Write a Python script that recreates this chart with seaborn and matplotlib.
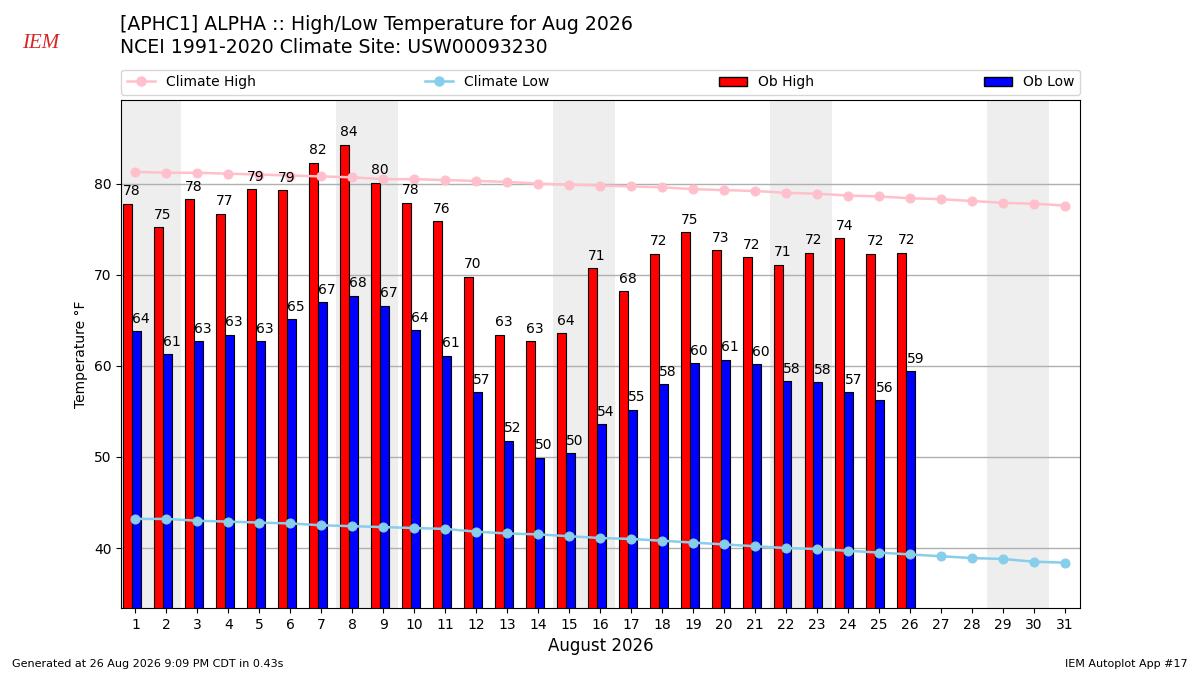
import matplotlib
matplotlib.use("Agg")
import matplotlib.pyplot as plt
from matplotlib.lines import Line2D
from matplotlib.patches import Patch
import numpy as np
import pandas as pd
import seaborn as sns

days = list(range(1, 32))
ob_days = list(range(1, 27))
ob_high = [77.8, 75.2, 78.3, 76.7, 79.4, 79.3, 82.3, 84.3, 80.1, 77.9, 75.9,
           69.8, 63.4, 62.7, 63.6, 70.7, 68.2, 72.3, 74.7, 72.7, 71.9, 71.1,
           72.4, 74.0, 72.3, 72.4]
ob_low = [63.8, 61.3, 62.7, 63.4, 62.7, 65.1, 67.0, 67.7, 66.6, 63.9, 61.1,
          57.1, 51.8, 49.9, 50.4, 53.6, 55.2, 58.0, 60.3, 60.7, 60.2, 58.3,
          58.2, 57.1, 56.2, 59.4]
clim_high = [81.3, 81.2, 81.2, 81.1, 81.0, 80.9, 80.8, 80.7, 80.5, 80.5, 80.4,
             80.3, 80.2, 80.0, 79.9, 79.8, 79.7, 79.6, 79.4, 79.3, 79.2, 79.0,
             78.9, 78.7, 78.6, 78.4, 78.3, 78.1, 77.9, 77.8, 77.6]
clim_low = [43.2, 43.2, 43.0, 42.9, 42.8, 42.7, 42.5, 42.4, 42.3, 42.2, 42.1,
            41.8, 41.6, 41.5, 41.3, 41.1, 41.0, 40.8, 40.6, 40.4, 40.2, 40.0,
            39.9, 39.7, 39.5, 39.3, 39.1, 38.9, 38.8, 38.5, 38.4]
weekends = [(1, 2), (8, 9), (15, 16), (22, 23), (29, 30)]

# bars sit a bit left of the day tick, like the original
shift = -0.12
obs = pd.DataFrame({
    'pos': [d + shift for d in ob_days] * 2,
    'temp': ob_high + ob_low,
    'kind': ['Ob High'] * len(ob_days) + ['Ob Low'] * len(ob_days),
})

fig = plt.figure(figsize=(12, 6.75), dpi=100)
ax = fig.add_axes([0.101, 0.099, 0.799, 0.753])

for a, b in weekends:
    ax.axvspan(a - 0.52, b + 0.48, color='#eeeeee', zorder=0, lw=0)

sns.barplot(data=obs, x='pos', y='temp', hue='kind', native_scale=True,
            palette={'Ob High': 'red', 'Ob Low': 'blue'}, width=0.58, gap=0,
            saturation=1, edgecolor='black', linewidth=0.8, errorbar=None,
            legend=False, ax=ax, zorder=2)

sns.lineplot(x=days, y=clim_high, color='pink', marker='o', markersize=6.5,
             markeredgecolor='pink', linewidth=1.8, ax=ax, zorder=3)
sns.lineplot(x=days, y=clim_low, color='skyblue', marker='o', markersize=6.5,
             markeredgecolor='skyblue', linewidth=1.8, ax=ax, zorder=3)

for d, v in zip(ob_days, ob_high):
    ax.text(d + shift - 0.29, v + 0.6, f"{v:.0f}", ha='left', va='bottom',
            fontsize=10, zorder=4)
for d, v in zip(ob_days, ob_low):
    ax.text(d + shift, v + 0.6, f"{v:.0f}", ha='left', va='bottom',
            fontsize=10, zorder=4)

ax.set_xlim(0.54, 31.48)
ax.set_ylim(33.4, 89.2)
ax.set_xticks(days)
ax.set_xticklabels([str(d) for d in days])
ax.set_yticks([40, 50, 60, 70, 80])
ax.tick_params(labelsize=10)
ax.yaxis.grid(True, color='#b0b0b0', lw=1)
ax.set_axisbelow(True)
ax.set_xlabel('August 2026', fontsize=12)
ax.set_ylabel('Temperature °F', fontsize=10)

handles = [
    Line2D([], [], color='pink', marker='o', markersize=6.5, lw=1.8),
    Line2D([], [], color='skyblue', marker='o', markersize=6.5, lw=1.8),
    Patch(facecolor='red', edgecolor='black'),
    Patch(facecolor='blue', edgecolor='black'),
]
ax.legend(handles, ['Climate High', 'Climate Low', 'Ob High', 'Ob Low'],
          loc='lower left', bbox_to_anchor=(0, 1.01, 1, 0.05), mode='expand',
          ncol=4, borderaxespad=0, fontsize=10)

fig.text(0.1, 0.964, '[APHC1] ALPHA :: High/Low Temperature for Aug 2026',
         fontsize=13.6, va='center')
fig.text(0.1, 0.929, 'NCEI 1991-2020 Climate Site: USW00093230',
         fontsize=13.6, va='center')
fig.text(0.018, 0.935, 'IEM', color='#d62728', fontsize=15, style='italic',
         family='Liberation Serif', va='center')
fig.text(0.01, 0.012, 'Generated at 26 Aug 2026 9:09 PM CDT in 0.43s', fontsize=8)
fig.text(0.99, 0.012, 'IEM Autoplot App #17', fontsize=8, ha='right')

fig.savefig('out.png', dpi=100)
